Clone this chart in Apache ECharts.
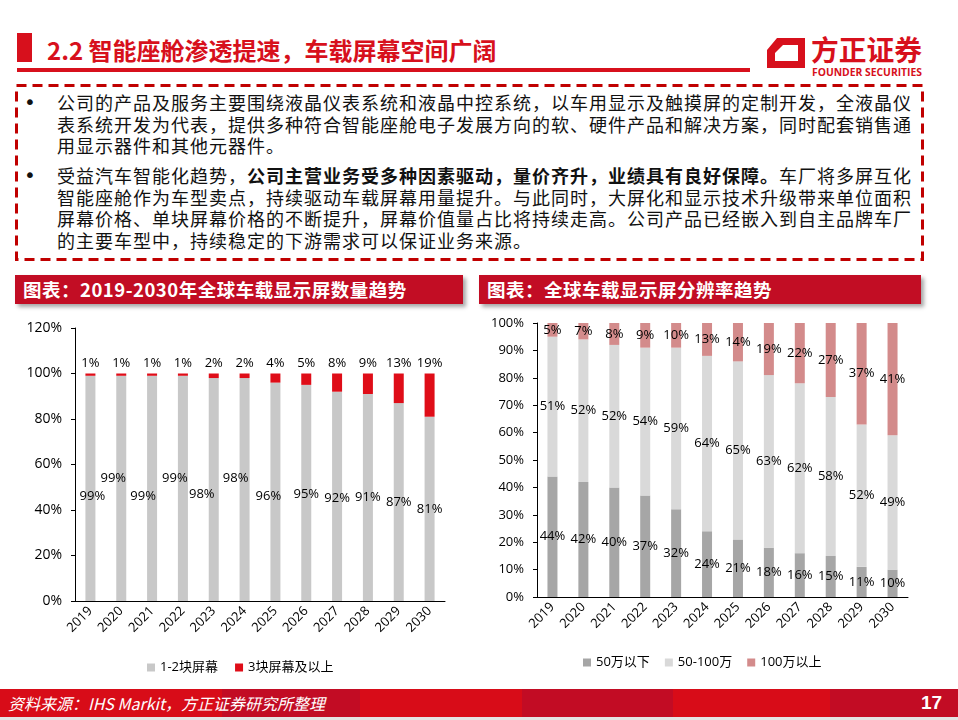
<!DOCTYPE html>
<html>
<head>
<meta charset="utf-8">
<script src="https://cdn.jsdelivr.net/npm/echarts@6/dist/echarts.min.js"></script>
<style>
  html, body { margin: 0; padding: 0; background: #fff; }
  #page { position: relative; width: 958px; height: 720px; overflow: hidden; font-family: "Noto Sans CJK SC", sans-serif; }
  .abs { position: absolute; }
  .title { left: 47px; top: 35px; font-size: 24px; font-weight: bold; color: #d7101c; line-height: 30px; white-space: nowrap; }
  .line { left: 57px; font-size: 18px; letter-spacing: 1px; line-height: 22px; color: #111; white-space: nowrap; }
  .dot { left: 24px; font-size: 20px; line-height: 22px; color: #111; font-family: "DejaVu Sans", sans-serif; }
  .hdr { top: 275px; height: 29px; background: #c20d24; box-shadow: 3px 3px 4px rgba(0,0,0,0.35); color: #fff; font-weight: bold; font-size: 18.5px; line-height: 29px; white-space: nowrap; letter-spacing: 0.5px; }
  .foot { left: 0; top: 689px; width: 958px; height: 28px;
    background: linear-gradient(to right, #d80c18 0, #d80c18 222px, #c20c24 222px, #c20c24 360px, #d80c18 360px, #d80c18 522px, #c20c24 522px, #c20c24 673px, #d80c18 673px, #d80c18 830px, #c20c24 830px); }
  #chart { position: absolute; left: 0; top: 0; width: 958px; height: 720px; }
</style>
</head>
<body>
<div id="page">
  <!-- title -->
  <div class="abs" style="left:17px;top:33px;width:15px;height:29px;background:#d7101c"></div>
  <div class="abs title">2.2 智能座舱渗透提速，车载屏幕空间广阔</div>
  <div class="abs" style="left:17px;top:68px;width:733px;height:4px;background:#d7101c"></div>

  <!-- logo -->
  <svg class="abs" style="left:0;top:0" width="958" height="90">
    <path d="M777,38 L805,38 L805,68 L767,68 L767,50 Z M783,45 L798,45 L798,61 L775,61 L775,53 Z" fill="#d7101c" fill-rule="evenodd"/>
    <text x="811" y="61" font-family="Noto Sans CJK SC" font-weight="bold" font-size="28" fill="#d7101c" textLength="111" lengthAdjust="spacingAndGlyphs">方正证券</text>
    <text x="812" y="76" font-family="Open Sans" font-weight="bold" font-size="10" fill="#d7101c" textLength="110" lengthAdjust="spacingAndGlyphs">FOUNDER SECURITIES</text>
  </svg>

  <!-- text box -->
  <svg class="abs" style="left:0;top:0" width="958" height="270">
    <rect x="16.5" y="85.5" width="906" height="174" fill="none" stroke="#c00000" stroke-width="3" stroke-dasharray="10 6"/>
  </svg>
  <div class="abs dot" style="top:91px">•</div>
  <div class="abs line" style="top:91px">公司的产品及服务主要围绕液晶仪表系统和液晶中控系统，以车用显示及触摸屏的定制开发，全液晶仪</div>
  <div class="abs line" style="top:112.5px">表系统开发为代表，提供多种符合智能座舱电子发展方向的软、硬件产品和解决方案，同时配套销售通</div>
  <div class="abs line" style="top:134px">用显示器件和其他元器件。</div>
  <div class="abs dot" style="top:164px">•</div>
  <div class="abs line" style="top:164px">受益汽车智能化趋势，<b>公司主营业务受多种因素驱动，量价齐升，业绩具有良好保障。</b>车厂将多屏互化</div>
  <div class="abs line" style="top:185.5px">智能座舱作为车型卖点，持续驱动车载屏幕用量提升。与此同时，大屏化和显示技术升级带来单位面积</div>
  <div class="abs line" style="top:207px">屏幕价格、单块屏幕价格的不断提升，屏幕价值量占比将持续走高。公司产品已经嵌入到自主品牌车厂</div>
  <div class="abs line" style="top:228.5px">的主要车型中，持续稳定的下游需求可以保证业务来源。</div>

  <!-- chart headers -->
  <div class="abs hdr" style="left:15px;width:448px"><span style="margin-left:8px">图表：2019-2030年全球车载显示屏数量趋势</span></div>
  <div class="abs hdr" style="left:479px;width:442px"><span style="margin-left:8px">图表：全球车载显示屏分辨率趋势</span></div>

  <div id="chart"></div>

  <!-- footer -->
  <div class="abs foot"></div>
  <div class="abs" style="left:0;top:717px;width:958px;height:3px;background:#e4e4e4"></div>
  <div class="abs" style="left:8px;top:692px;font-size:16px;line-height:22px;color:#fff;font-style:italic;white-space:nowrap">资料来源：IHS Markit，方正证券研究所整理</div>
  <div class="abs" style="left:921px;top:691px;font-size:19px;line-height:24px;color:#fff;font-weight:bold;font-family:'Liberation Sans',sans-serif">17</div>
</div>

<script>
// 年份
const years = ['2019','2020','2021','2022','2023','2024','2025','2026','2027','2028','2029','2030'];

// 全球车载显示屏数量 (%)
const screens12 = [99, 99, 99, 99, 98, 98, 96, 95, 92, 91, 87, 81];
const screens3plus = [1, 1, 1, 1, 2, 2, 4, 5, 8, 9, 13, 19];

// 分辨率 (%)
const resLow = [44, 42, 40, 37, 32, 24, 21, 18, 16, 15, 11, 10];
const resMid = [51, 52, 52, 54, 59, 64, 65, 63, 62, 58, 52, 49];
const resHigh = [5, 7, 8, 9, 10, 13, 14, 19, 22, 27, 37, 41];

const FONT = '"Open Sans","Noto Sans CJK SC",sans-serif';

// 左图标签错位，避免重叠
const labelNudge = [[2,8],[-8,-10],[-9,8],[-8,-10],[-12,5],[-9,-11],[-7,4],[0,1],[0,2],[0,0],[0,0],[0,0]];

const chart = echarts.init(document.getElementById('chart'));

const lbl = { show: true, formatter: '{c}%', color: '#000', fontSize: 13, fontFamily: FONT, textBorderWidth: 0 };

function xAx(gi) {
    return {
        gridIndex: gi, type: 'category', data: years,
        axisLine: { lineStyle: { color: '#000', width: 1 } },
        axisTick: { show: false },
        axisLabel: { rotate: 45, color: '#000', fontSize: 13, fontFamily: FONT, margin: 8, interval: 0 }
    };
}
function yAx(gi, max, step, fs) {
    return {
        gridIndex: gi, type: 'value', min: 0, max: max, interval: step,
        axisLine: { show: true, lineStyle: { color: '#000', width: 1 } },
        axisTick: { show: true, length: 4, lineStyle: { color: '#000' } },
        splitLine: { show: false },
        axisLabel: { formatter: '{value}%', color: '#000', fontSize: fs, fontFamily: FONT, margin: 13 }
    };
}

chart.setOption({
    animation: false,
    grid: [
        { left: 75, top: 328, width: 370, height: 273 },
        { left: 537, top: 323, width: 371, height: 274 }
    ],
    xAxis: [xAx(0), xAx(1)],
    yAxis: [yAx(0, 120, 20, 14), yAx(1, 100, 10, 13)],
    legend: [
        { data: ['1-2块屏幕', '3块屏幕及以上'], left: 142, top: 656, icon: 'rect', itemWidth: 8, itemHeight: 8, itemGap: 17,
          textStyle: { fontSize: 13, color: '#000', fontFamily: FONT } },
        { data: ['50万以下', '50-100万', '100万以上'], left: 578, top: 651, icon: 'rect', itemWidth: 8, itemHeight: 8, itemGap: 15,
          textStyle: { fontSize: 13, color: '#000', fontFamily: FONT } }
    ],
    series: [
        { name: '1-2块屏幕', type: 'bar', stack: 'n', xAxisIndex: 0, yAxisIndex: 0, barWidth: 10,
          itemStyle: { color: '#c8c8c8' },
          label: Object.assign({}, lbl, { position: 'inside' }),
          data: screens12.map((v, i) => ({ value: v, label: { offset: labelNudge[i] } })) },
        { name: '3块屏幕及以上', type: 'bar', stack: 'n', xAxisIndex: 0, yAxisIndex: 0, barWidth: 10,
          itemStyle: { color: '#df0d18' },
          label: Object.assign({}, lbl, { position: 'top', distance: 4 }),
          data: screens3plus },
        { name: '50万以下', type: 'bar', stack: 'r', xAxisIndex: 1, yAxisIndex: 1, barWidth: 10,
          itemStyle: { color: '#a6a6a6' },
          label: Object.assign({}, lbl, { position: 'inside' }),
          data: resLow },
        { name: '50-100万', type: 'bar', stack: 'r', xAxisIndex: 1, yAxisIndex: 1, barWidth: 10,
          itemStyle: { color: '#d9d9d9' },
          label: Object.assign({}, lbl, { position: 'inside' }),
          data: resMid },
        { name: '100万以上', type: 'bar', stack: 'r', xAxisIndex: 1, yAxisIndex: 1, barWidth: 10, clip: true,
          itemStyle: { color: '#d38b8b' },
          label: Object.assign({}, lbl, { position: 'inside' }),
          data: resHigh }
    ]
});
</script>
</body>
</html>
